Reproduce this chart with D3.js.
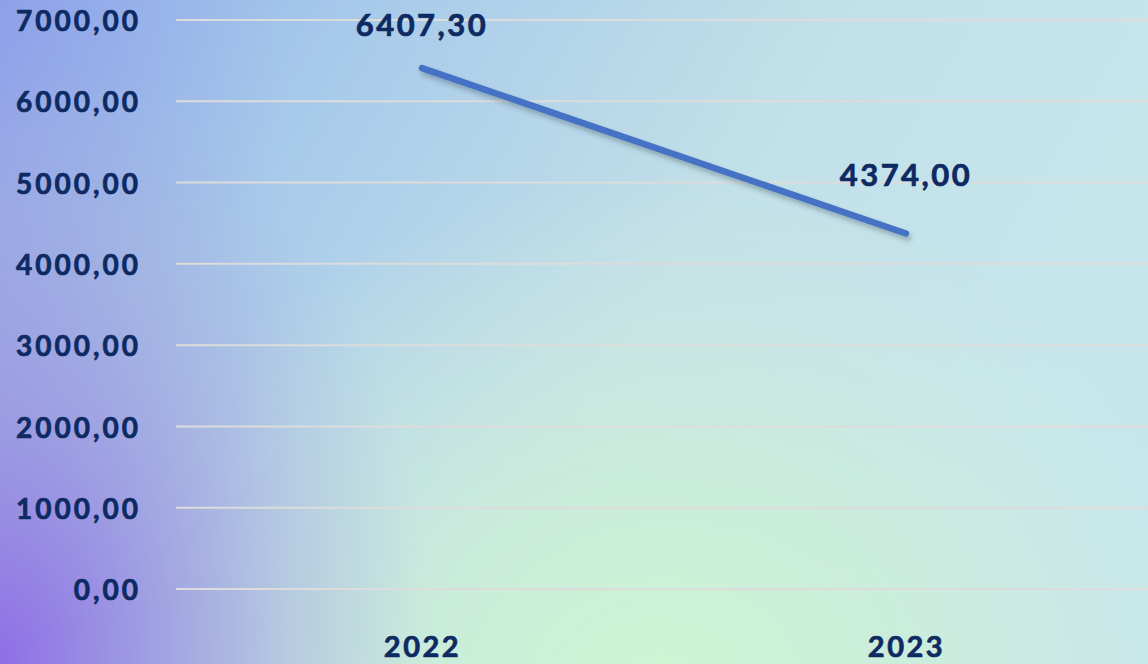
<!DOCTYPE html>
<html>
<head>
<meta charset="utf-8">
<script src="https://cdn.jsdelivr.net/npm/d3@7"></script>
<style>
  html, body { margin: 0; padding: 0; }
  body { width: 1148px; height: 664px; overflow: hidden; }
  svg { display: block; }
</style>
</head>
<body>
<svg id="chart" width="1148" height="664"></svg>
<script>
// Series: yearly totals
const years = ["2022", "2023"];
const values = [6407.30, 4374.00];
const yTicks = [0, 1000, 2000, 3000, 4000, 5000, 6000, 7000];

const W = 1148, H = 664;
const plot = { left: 176, right: 1148, top: 20, bottom: 589 };
const navy = "#0e2a63";
const fontStack = "Lato, 'Open Sans', sans-serif";
const fmt = v => v.toFixed(2).replace(".", ",");

const svg = d3.select("#chart");
const defs = svg.append("defs");

// ---- background: soft multi-tone wash ----
const base = defs.append("linearGradient").attr("id", "bgBase")
  .attr("x1", "0").attr("y1", "0").attr("x2", "1").attr("y2", "0.35");
base.append("stop").attr("offset", "0").attr("stop-color", "#8eadec");
base.append("stop").attr("offset", "0.3").attr("stop-color", "#a9cbea");
base.append("stop").attr("offset", "0.65").attr("stop-color", "#c2e0e8");
base.append("stop").attr("offset", "1").attr("stop-color", "#c6e6ec");

const green = defs.append("radialGradient").attr("id", "bgGreen")
  .attr("gradientUnits", "userSpaceOnUse")
  .attr("cx", 660).attr("cy", 700).attr("r", 520)
  .attr("gradientTransform", "translate(660,700) scale(1.15,1) translate(-660,-700)");
green.append("stop").attr("offset", "0").attr("stop-color", "#cdf7d0").attr("stop-opacity", 1);
green.append("stop").attr("offset", "0.45").attr("stop-color", "#cdf0d6").attr("stop-opacity", 0.7);
green.append("stop").attr("offset", "1").attr("stop-color", "#d2ecdf").attr("stop-opacity", 0);

const purple = defs.append("radialGradient").attr("id", "bgPurple")
  .attr("gradientUnits", "userSpaceOnUse")
  .attr("cx", 0).attr("cy", 664).attr("r", 430)
  .attr("gradientTransform", "translate(0,664) scale(1,1.45) translate(0,-664)");
purple.append("stop").attr("offset", "0").attr("stop-color", "#8e6ee6").attr("stop-opacity", 1);
purple.append("stop").attr("offset", "0.4").attr("stop-color", "#9e98e0").attr("stop-opacity", 0.75);
purple.append("stop").attr("offset", "0.75").attr("stop-color", "#a8b0de").attr("stop-opacity", 0.35);
purple.append("stop").attr("offset", "1").attr("stop-color", "#a8b8de").attr("stop-opacity", 0);

const leftEdge = defs.append("linearGradient").attr("id", "bgLeft")
  .attr("x1", "0").attr("y1", "0").attr("x2", "1").attr("y2", "0");
leftEdge.append("stop").attr("offset", "0").attr("stop-color", "#8f96e6").attr("stop-opacity", 0.55);
leftEdge.append("stop").attr("offset", "0.25").attr("stop-color", "#9aa8e4").attr("stop-opacity", 0);

svg.append("rect").attr("width", W).attr("height", H).attr("fill", "url(#bgBase)");
svg.append("rect").attr("width", W).attr("height", H).attr("fill", "url(#bgGreen)");
svg.append("rect").attr("width", W).attr("height", H).attr("fill", "url(#bgLeft)");
svg.append("rect").attr("width", W).attr("height", H).attr("fill", "url(#bgPurple)");

// drop shadow for the series line
const shadow = defs.append("filter").attr("id", "lineShadow")
  .attr("x", "-10%").attr("y", "-20%").attr("width", "130%").attr("height", "160%");
shadow.append("feDropShadow")
  .attr("dx", 2).attr("dy", 4).attr("stdDeviation", 2.5)
  .attr("flood-color", "#304050").attr("flood-opacity", 0.35);

// ---- scales ----
const x = d3.scalePoint().domain(years).range([plot.left + 4, plot.right]).padding(0.5);
const y = d3.scaleLinear().domain([0, 7000]).range([plot.bottom, plot.top]);

// heavy navy text
function styleText(sel, size, spacing) {
  sel.attr("fill", navy)
    .attr("stroke", navy)
    .attr("stroke-width", 0.7)
    .style("font-family", fontStack)
    .style("font-weight", 700)
    .style("font-size", size + "px")
    .style("letter-spacing", spacing + "px");
}

// ---- gridlines ----
svg.append("g")
  .selectAll("line").data(yTicks).join("line")
  .attr("x1", plot.left).attr("x2", plot.right)
  .attr("y1", d => y(d)).attr("y2", d => y(d))
  .attr("stroke", "#dcdcdc").attr("stroke-width", 2);

// ---- y axis labels ----
const yAxis = svg.append("g")
  .attr("transform", `translate(141,0)`)
  .call(d3.axisLeft(y).tickValues(yTicks).tickFormat(fmt).tickSize(0).tickPadding(0));
yAxis.select(".domain").remove();
yAxis.selectAll("text").attr("dy", "0.38em").call(styleText, 28, 3);

// ---- x axis labels ----
const xAxis = svg.append("g")
  .attr("transform", `translate(0,${H})`)
  .call(d3.axisBottom(x).tickSize(0).tickPadding(0));
xAxis.select(".domain").remove();
xAxis.selectAll("text").attr("y", -7).attr("dy", 0).call(styleText, 29, 2.5);

// ---- series line ----
const pts = years.map((yr, i) => [x(yr), y(values[i])]);
svg.append("path")
  .datum(pts)
  .attr("d", d3.line())
  .attr("fill", "none")
  .attr("stroke", "#4472c4")
  .attr("stroke-width", 6.5)
  .attr("stroke-linecap", "round")
  .attr("filter", "url(#lineShadow)");

// ---- value labels above the points (kept inside the plot top) ----
svg.append("g")
  .selectAll("text").data(values).join("text")
  .attr("x", (d, i) => x(years[i]))
  .attr("y", d => Math.max(y(d) - 47, 36))
  .attr("text-anchor", "middle")
  .call(styleText, 31, 2.5)
  .text(fmt);
</script>
</body>
</html>
